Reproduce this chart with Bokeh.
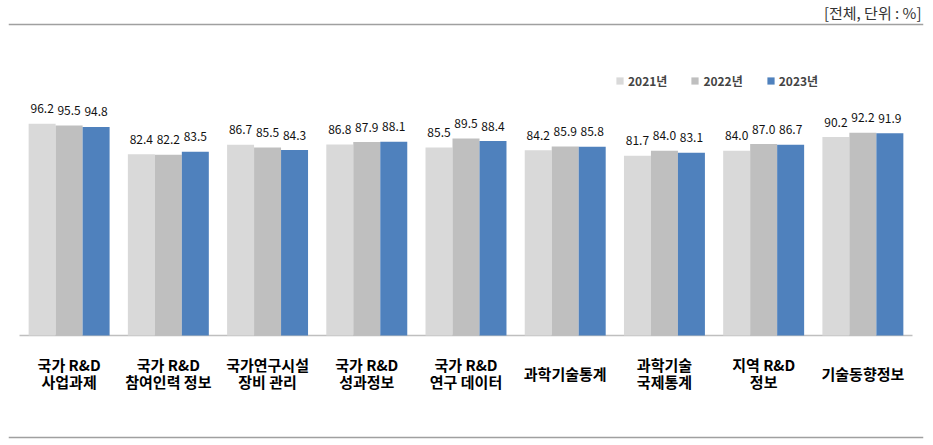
from bokeh.plotting import figure
from bokeh.models import ColumnDataSource, FactorRange, Range1d, Legend, LegendItem, Span
from bokeh.transform import dodge
from bokeh.core.properties import value
from bokeh.embed import file_html
from bokeh.resources import INLINE

categories = ["국가 R&D\n사업과제", "국가 R&D\n참여인력 정보", "국가연구시설\n장비 관리",
              "국가 R&D\n성과정보", "국가 R&D\n연구 데이터", "과학기술통계",
              "과학기술\n국제통계", "지역 R&D\n정보", "기술동향정보"]
series_names = ["2021년", "2022년", "2023년"]
y2021 = [96.2, 82.4, 86.7, 86.8, 85.5, 84.2, 81.7, 84.0, 90.2]
y2022 = [95.5, 82.2, 85.5, 87.9, 89.5, 85.9, 84.0, 87.0, 92.2]
y2023 = [94.8, 83.5, 84.3, 88.1, 88.4, 85.8, 83.1, 86.7, 91.9]
colors = ["#d9d9d9", "#bfbfbf", "#4f81bd"]
unit_note = "[전체, 단위 : %]"

FONT = "Noto Sans CJK KR"
BAR_W = 0.272
W, H = 933, 445
BASE = 335                            # canvas px of value 0
PX = 2.2                              # px per percentage point
TOP_RULE, BOTTOM_RULE = 24, 437       # canvas px of the two rules
PAD = 0.111                           # category padding on each side

y_top = BASE / PX
y_bot = (BASE - H) / PX
y_rule_top = (BASE - TOP_RULE) / PX
y_rule_bot = (BASE - BOTTOM_RULE) / PX

source = ColumnDataSource(dict(
    cat=categories, y2021=y2021, y2022=y2022, y2023=y2023,
    t2021=[f"{v:.1f}" for v in y2021],
    t2022=[f"{v:.1f}" for v in y2022],
    t2023=[f"{v:.1f}" for v in y2023],
    zero=[0] * len(categories),
))

p = figure(x_range=FactorRange(factors=categories, range_padding=PAD, range_padding_units="absolute"),
           y_range=Range1d(y_bot, y_top),
           width=W, height=H, output_backend="svg", toolbar_location=None,
           min_border_left=8, min_border_right=10, min_border_top=0, min_border_bottom=0,
           x_axis_location=None, y_axis_location=None, outline_line_color=None,
           background_fill_color="white", border_fill_color="white")
p.xgrid.grid_line_color = None
p.ygrid.grid_line_color = None

# upper and lower rules
p.add_layout(Span(location=y_rule_top, dimension="width", line_color="#a0a0a0", line_width=1.5))
p.add_layout(Span(location=y_rule_bot, dimension="width", line_color="#a0a0a0", line_width=1.5))

# baseline across the category area
p.segment(x0=[0], x1=[len(categories)], y0=[0], y1=[0], line_color="#bfbfbf", line_width=1.5)

renderers = []
for i, (key, col) in enumerate(zip(["2021", "2022", "2023"], colors)):
    off = (i - 1) * BAR_W
    r = p.vbar(x=dodge("cat", off, range=p.x_range), top="y" + key, width=BAR_W,
               source=source, fill_color=col, line_color=None)
    renderers.append(r)
    p.text(x=dodge("cat", off, range=p.x_range), y="y" + key, text="t" + key, source=source,
           text_align="center", text_baseline="middle", y_offset=-15,
           text_font=value(FONT), text_font_size="12px", text_color="#111111")

# category labels under the baseline
p.text(x="cat", y="zero", text="cat", source=source, y_offset=37.5,
       text_align="center", text_baseline="middle", text_font=value(FONT),
       text_font_style="bold", text_font_size="15px", text_line_height=0.8,
       text_color="#000000")

# unit note (top right)
p.text(x=[len(categories) + PAD], y=[y_rule_top], text=[unit_note], x_offset=-2, y_offset=-12,
       text_align="right", text_baseline="middle", text_font=value(FONT),
       text_font_size="15px", text_color="#333333")

legend = Legend(items=[LegendItem(label=n, renderers=[r]) for n, r in zip(series_names, renderers)],
                orientation="horizontal", location=(607, 356), padding=0, margin=0, spacing=23,
                glyph_width=9, glyph_height=9, label_height=9, label_standoff=4,
                label_text_font=FONT, label_text_font_style="bold", label_text_font_size="12px",
                border_line_color=None, background_fill_alpha=0)
p.add_layout(legend)

open("out.html", "w").write(file_html(p, INLINE))
